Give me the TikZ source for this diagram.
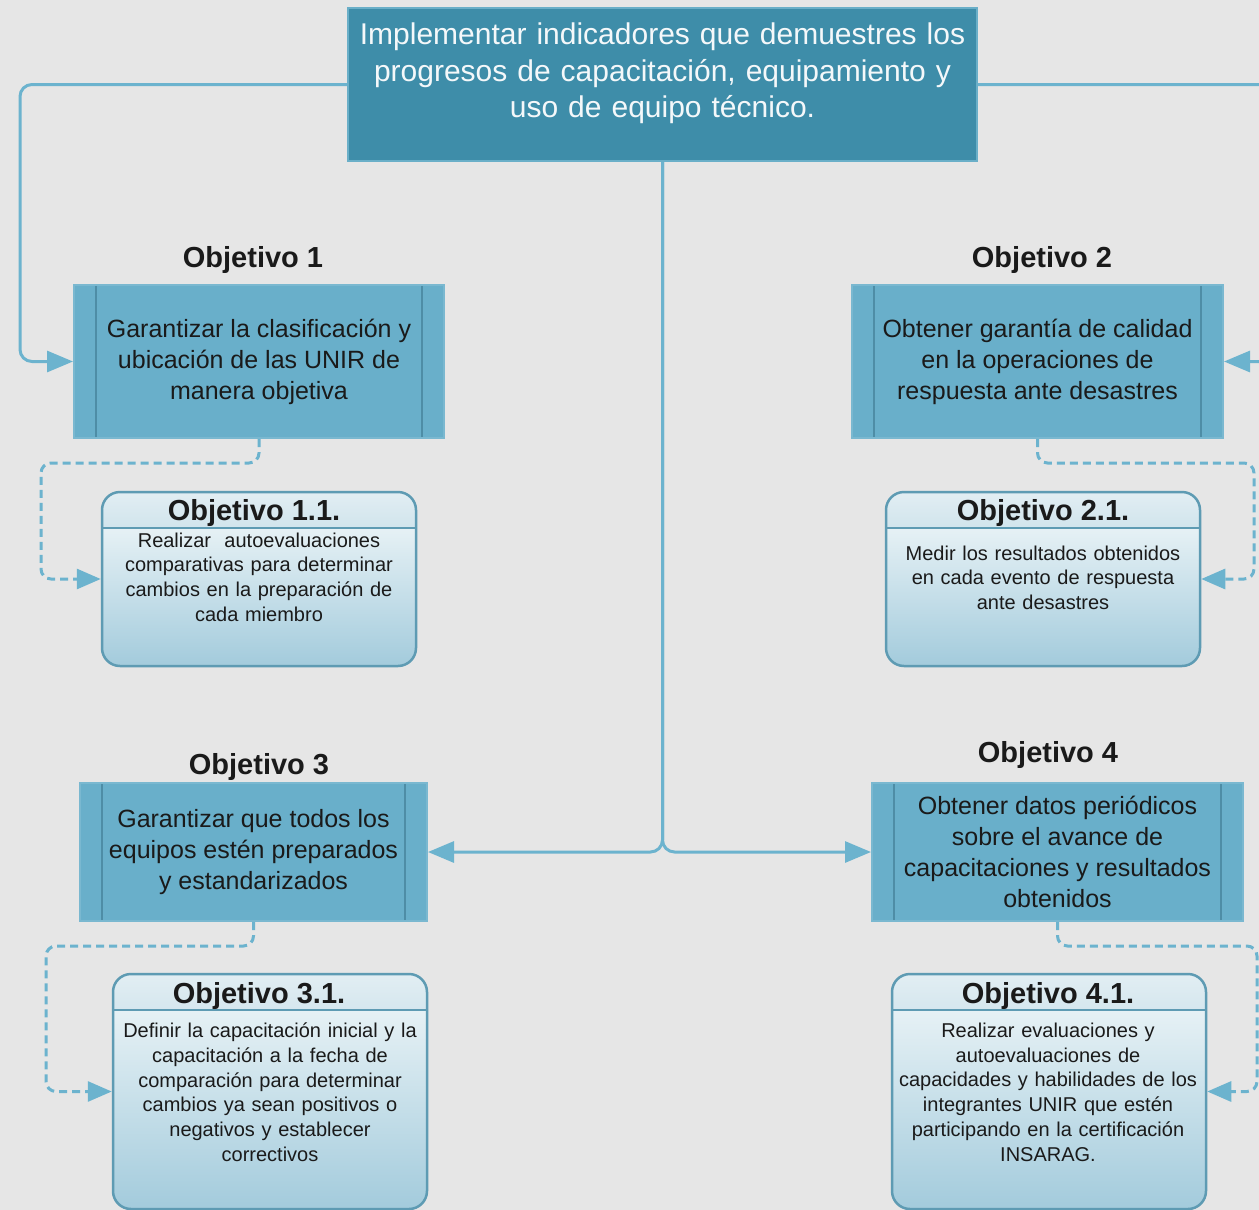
\documentclass[tikz,border=0pt]{standalone}
\usepackage{fontspec}
\setmainfont{Liberation Sans}
\usetikzlibrary{arrows.meta}
\definecolor{bg}{HTML}{E6E6E6}
\definecolor{topfill}{HTML}{3E8DA9}
\definecolor{topedge}{HTML}{6AAFC8}
\definecolor{boxfill}{HTML}{69AFCA}
\definecolor{boxedge}{HTML}{7AB8D0}
\definecolor{boxinner}{HTML}{4E8DA6}
\definecolor{conn}{HTML}{6CB3CE}
\definecolor{subedge}{HTML}{5E9BB3}
\definecolor{hdtop}{HTML}{E2EEF3}
\definecolor{hdbot}{HTML}{8EBFD3}
\definecolor{bdtop}{HTML}{E6F1F5}
\definecolor{bdbot}{HTML}{A3CBDC}
\definecolor{txt}{HTML}{1A1A1A}
\tikzset{
  topbox/.style={draw=topedge, line width=2pt, fill=topfill, inner sep=0pt},
  toptext/.style={text=white!94!topfill, font=\fontsize{30}{36.5}\selectfont, align=center, inner sep=0pt, text width=620pt},
  procbox/.style={draw=boxedge, line width=2pt, fill=boxfill, inner sep=0pt,
    text=txt, font=\fontsize{25}{31}\selectfont, align=center,
    path picture={
      \draw[boxinner, line width=1.2pt] ([xshift=22pt]path picture bounding box.north west) -- ([xshift=22pt]path picture bounding box.south west);
      \draw[boxinner, line width=1.2pt] ([xshift=-22pt]path picture bounding box.north east) -- ([xshift=-22pt]path picture bounding box.south east);
    }},
  objhead/.style={text=txt, font=\fontsize{29}{32}\selectfont\bfseries, inner sep=0pt},
  subbox/.style={draw=subedge, line width=2.5pt, rounded corners=18pt, inner sep=0pt,
    path picture={
      \shade[sharp corners, top color=hdtop, bottom color=hdbot] (path picture bounding box.north west) rectangle ([yshift=-36pt]path picture bounding box.north east);
      \shade[sharp corners, top color=bdtop, bottom color=bdbot] ([yshift=-36pt]path picture bounding box.north west) rectangle (path picture bounding box.south east);
      \draw[sharp corners, subedge, line width=2pt] ([yshift=-36pt]path picture bounding box.north west) -- ([yshift=-36pt]path picture bounding box.north east);
    }},
  subhead/.style={text=txt, font=\fontsize{29}{32}\selectfont\bfseries, inner sep=0pt},
  subbody/.style={text=txt, font=\fontsize{20}{24.8}\selectfont, align=center, inner sep=0pt, text width=300pt, anchor=north},
  connline/.style={draw=conn, line width=3pt, rounded corners=12pt, -{Triangle[length=26pt,width=21pt]}},
  dashconn/.style={draw=conn, line width=3pt, rounded corners=10pt, dash pattern=on 8pt off 5pt, -{Triangle[length=24pt,width=20pt]}},
}
\begin{document}
\begin{tikzpicture}[x=1pt,y=-1pt]
\useasboundingbox (0,0) rectangle (1259,1210);
\clip (0,0) rectangle (1259,1210);
\fill[bg] (0,0) rectangle (1259,1210);

% top box
\node[topbox, minimum width=629pt, minimum height=153pt] (top) at (662.5,84.5) {};
\node[toptext, anchor=north] (toptxt) at (662.5,23) {Implementar indicadores que demuestres los\\progresos de capacitación, equipamiento y\\uso de equipo técnico.};

% headings
\node[objhead] (h1) at (253,260) {Objetivo 1};
\node[objhead] (h2) at (1042,260) {Objetivo 2};
\node[objhead] (h3) at (259,767) {Objetivo 3};
\node[objhead] (h4) at (1048,755) {Objetivo 4};

% main objective boxes
\node[procbox, minimum width=370pt, minimum height=153pt] (o1) at (259,361.5) {Garantizar la clasificación y\\ubicación de las UNIR de\\manera objetiva};
\node[procbox, minimum width=371pt, minimum height=153pt] (o2) at (1037.5,361.5) {Obtener garantía de calidad\\en la operaciones de\\respuesta ante desastres};
\node[procbox, minimum width=347pt, minimum height=138pt] (o3) at (253.5,852) {Garantizar que todos los\\equipos estén preparados\\y estandarizados};
\node[procbox, minimum width=371pt, minimum height=138pt] (o4) at (1057.5,852) {Obtener datos periódicos\\sobre el avance de\\capacitaciones y resultados\\obtenidos};

% sub boxes
\node[subbox, minimum width=314pt, minimum height=174pt] (s11) at (259,579) {};
\node[subbox, minimum width=314pt, minimum height=174pt] (s21) at (1043,579) {};
\node[subbox, minimum width=314pt, minimum height=235pt] (s31) at (270,1091.5) {};
\node[subbox, minimum width=314pt, minimum height=235pt] (s41) at (1049,1091.5) {};

\node[subhead] (t11) at (254,513) {Objetivo 1.1.};
\node[subhead] (t21) at (1043,513) {Objetivo 2.1.};
\node[subhead] (t31) at (259,996) {Objetivo 3.1.};
\node[subhead] (t41) at (1048,996) {Objetivo 4.1.};

\node[subbody] (b11) at (259,532.5) {Realizar\ \ autoevaluaciones\\comparativas para determinar\\cambios en la preparación de\\cada miembro};
\node[subbody] (b21) at (1043,545.5) {Medir los resultados obtenidos\\en cada evento de respuesta\\ante desastres};
\node[subbody] (b31) at (270,1022.5) {Definir la capacitación inicial y la\\capacitación a la fecha de\\comparación para determinar\\cambios ya sean positivos o\\negativos y establecer\\correctivos};
\node[subbody] (b41) at (1048,1022.5) {Realizar evaluaciones y\\autoevaluaciones de\\capacidades y habilidades de los\\integrantes UNIR que estén\\participando en la certificación\\INSARAG.};

% coordinates for bends
\coordinate (lbend) at (20,361.5);
\coordinate (rbend) at (1285,361.5);
\coordinate (d1) at (41,463);
\coordinate (d2) at (1254,463);
\coordinate (d3) at (46,946);
\coordinate (d4) at (1257,946);

% solid connectors
\draw[connline] (top.west) -| (lbend) -- (o1.west);
\draw[connline] (top.east) -| (rbend) -- (o2.east);
\draw[connline] (top.south) |- (o3.east);
\draw[connline] (top.south) |- (o4.west);

% dashed connectors
\draw[dashconn] (o1.south) |- (d1) |- (s11.west);
\draw[dashconn] (o2.south) |- (d2) |- (s21.east);
\draw[dashconn] (o3.south) |- (d3) |- (s31.west);
\draw[dashconn] (o4.south) |- (d4) |- (s41.east);
\end{tikzpicture}
\end{document}
